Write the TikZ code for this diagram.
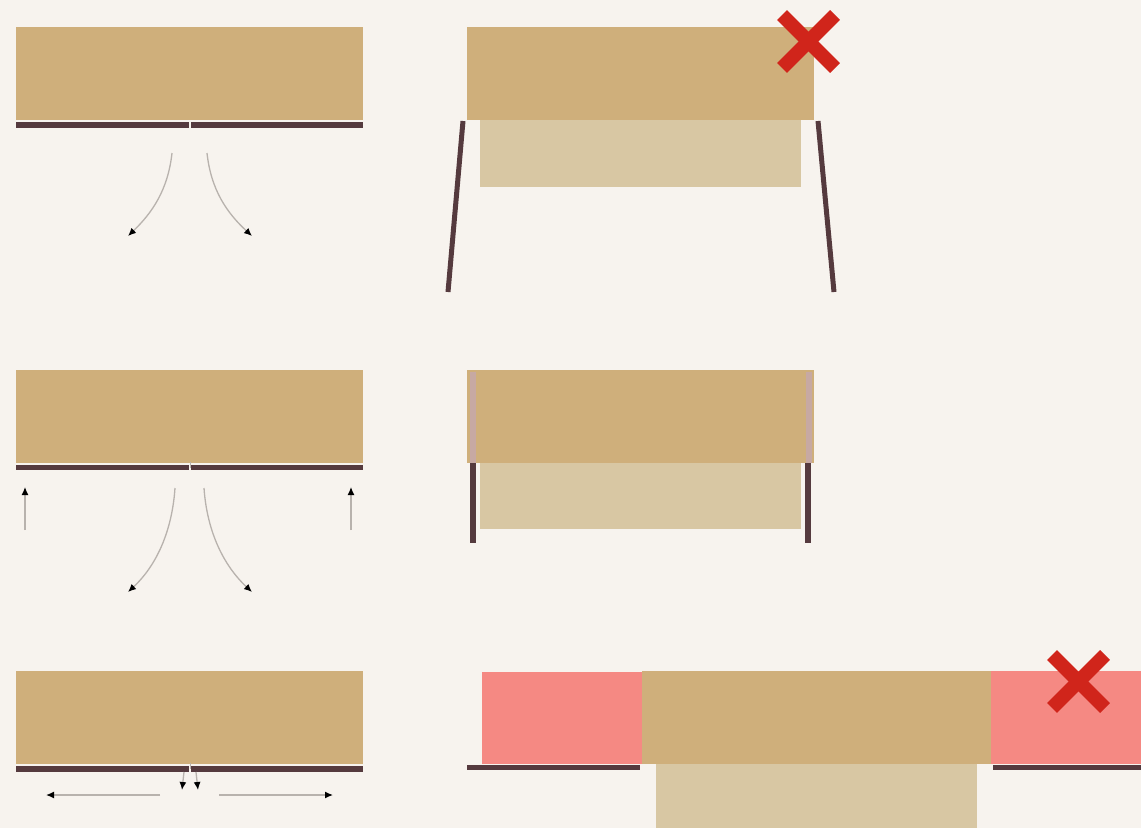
\documentclass[tikz,border=0pt]{standalone}
\usepackage{tikz}
\usetikzlibrary{arrows.meta,positioning}
\definecolor{paper}{rgb}{0.969, 0.953, 0.933}
\definecolor{oak}{rgb}{0.812, 0.686, 0.482}
\definecolor{sand}{rgb}{0.847, 0.780, 0.639}
\definecolor{rail}{rgb}{0.333, 0.227, 0.243}
\definecolor{rosy}{rgb}{0.961, 0.537, 0.514}
\definecolor{cross}{rgb}{0.816, 0.145, 0.106}
\definecolor{edgepink}{rgb}{0.780, 0.663, 0.639}
\definecolor{flow}{rgb}{0.72, 0.70, 0.68}
\tikzset{
  board/.style={
    fill = oak
  },
  drawer/.style={
    fill = sand
  },
  blocked/.style={
    fill = rosy
  },
  track/.style={
    fill = rail
  },
}
\tikzset{
  leg/.style={
    draw = rail,
    line width = 5pt,
    line cap = butt
  },
  move/.style={
    draw = flow,
    line width = 1.3pt,
    -{Latex[length=8pt,width=7pt,color=black]}
  },
  nogo/.style={
    draw = cross,
    line width = 14pt,
    line cap = butt
  },
}

\begin{document}
\begin{tikzpicture}[x=1pt,y=-1pt]
       \fill[paper] (0,0) rectangle (1141,828);
       \useasboundingbox (0,0) rectangle (1141,828);

       % top left
       \fill[board] (16,27) rectangle (363,120);
       \fill[track] (16,122) rectangle (189,128);
       \fill[track] (191,122) rectangle (363,128);
       \coordinate (a1) at (172,153);
       \coordinate (a2) at (128,236);
       \coordinate (b1) at (207,153);
       \coordinate (b2) at (252,236);
       \draw[move] (a1) .. controls (168,190) and (152,213) .. (a2);
       \draw[move] (b1) .. controls (211,190) and (227,213) .. (b2);

       % top right
       \fill[drawer] (480,120) rectangle (801,187);
       \fill[board] (467,27) rectangle (814,120);
       \coordinate (lt) at (463,121);
       \coordinate (lb) at (448,292);
       \coordinate (rt) at (818,121);
       \coordinate (rb) at (834,292);
       \draw[leg] (lt) -- (lb);
       \draw[leg] (rt) -- (rb);
       \coordinate (x1) at (782,15);
       \coordinate (x2) at (835,68);
       \coordinate (x3) at (835,15);
       \coordinate (x4) at (782,68);
       \draw[nogo] (x1) -- (x2);
       \draw[nogo] (x3) -- (x4);

       % middle left
       \fill[board] (16,370) rectangle (363,463);
       \fill[track] (16,465) rectangle (189,470);
       \fill[track] (191,465) rectangle (363,470);
       \fill[flow] (189.5,462) rectangle (190.5,468);
       \coordinate (c1) at (25,530);
       \coordinate (c2) at (25,487);
       \coordinate (d1) at (351,530);
       \coordinate (d2) at (351,487);
       \draw[move] (c1) -- (c2);
       \draw[move] (d1) -- (d2);
       \coordinate (e1) at (175,488);
       \coordinate (e2) at (128,592);
       \coordinate (f1) at (204,488);
       \coordinate (f2) at (252,592);
       \draw[move] (e1) .. controls (172,532) and (156,566) .. (e2);
       \draw[move] (f1) .. controls (207,532) and (224,566) .. (f2);

       % middle right
       \fill[drawer] (480,463) rectangle (801,529);
       \fill[board] (467,370) rectangle (814,463);
       \fill[edgepink] (469.5,372) rectangle (475.5,463);
       \fill[edgepink] (805.5,372) rectangle (811.5,463);
       \fill[track] (470,463) rectangle (476,543);
       \fill[track] (805,463) rectangle (811,543);

       % bottom left
       \fill[board] (16,671) rectangle (363,764);
       \fill[track] (16,766) rectangle (189,772);
       \fill[track] (191,766) rectangle (363,772);
       \fill[flow] (189.5,763) rectangle (190.5,769);
       \coordinate (g1) at (184,772);
       \coordinate (g2) at (182,790);
       \coordinate (h1) at (196,772);
       \coordinate (h2) at (198,790);
       \draw[move] (g1) -- (g2);
       \draw[move] (h1) -- (h2);
       \coordinate (i1) at (160,795);
       \coordinate (i2) at (46,795);
       \coordinate (j1) at (219,795);
       \coordinate (j2) at (333,795);
       \draw[move] (i1) -- (i2);
       \draw[move] (j1) -- (j2);

       % bottom right
       \fill[blocked] (482,672) rectangle (642,764);
       \fill[board] (642,671) rectangle (991,764);
       \fill[blocked] (991,671) rectangle (1141,764);
       \fill[drawer] (656,764) rectangle (977,828);
       \fill[track] (467,765) rectangle (640,770);
       \fill[track] (993,765) rectangle (1141,770);
       \coordinate (y1) at (1052,655);
       \coordinate (y2) at (1105,708);
       \coordinate (y3) at (1105,655);
       \coordinate (y4) at (1052,708);
       \draw[nogo] (y1) -- (y2);
       \draw[nogo] (y3) -- (y4);
\end{tikzpicture}
\end{document}
